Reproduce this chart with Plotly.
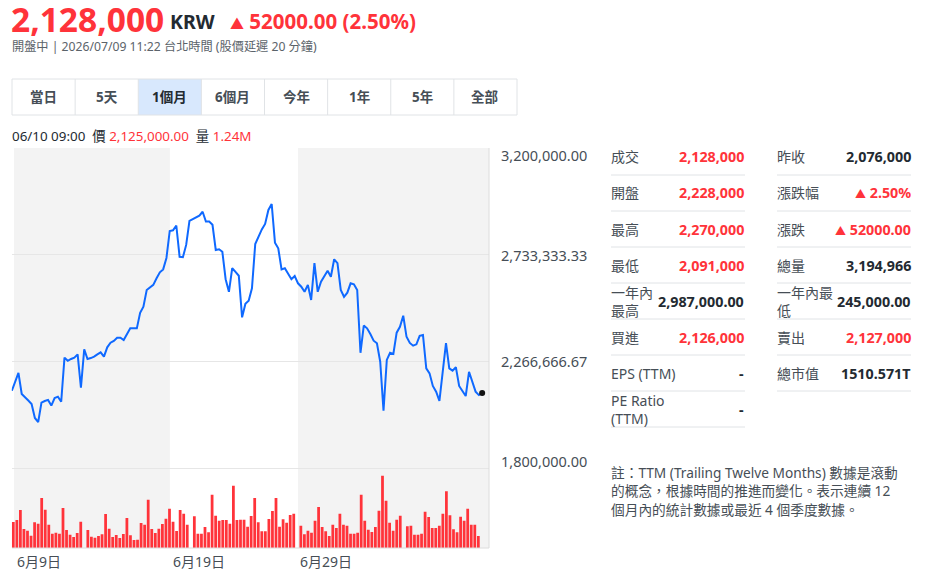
import plotly.graph_objects as go

W, H = 929, 570

# ---------------- data ----------------
price = [2138000, 2176000, 2216000, 2124000, 2111000, 2095000, 2080000, 2019000, 2001000, 2086000,
         2093000, 2098000, 2073000, 2106000, 2112000, 2090000, 2283000, 2269000, 2277000, 2283000,
         2297000, 2151000, 2319000, 2277000, 2281000, 2287000, 2297000, 2306000, 2287000, 2328000,
         2348000, 2356000, 2370000, 2370000, 2360000, 2386000, 2411000, 2411000, 2411000, 2479000,
         2506000, 2579000, 2592000, 2601000, 2630000, 2656000, 2669000, 2719000, 2837000, 2840000,
         2861000, 2724000, 2722000, 2776000, 2881000, 2888000, 2896000, 2904000, 2921000, 2878000,
         2878000, 2864000, 2754000, 2757000, 2746000, 2626000, 2571000, 2674000, 2658000, 2641000,
         2459000, 2518000, 2532000, 2586000, 2780000, 2815000, 2844000, 2868000, 2929000, 2955000,
         2786000, 2761000, 2669000, 2674000, 2649000, 2626000, 2640000, 2608000, 2593000, 2571000,
         2601000, 2535000, 2696000, 2571000, 2615000, 2640000, 2663000, 2637000, 2713000, 2696000,
         2579000, 2549000, 2567000, 2608000, 2604000, 2579000, 2304000, 2423000, 2411000, 2386000,
         2357000, 2346000, 2265000, 2051000, 2273000, 2304000, 2299000, 2392000, 2418000, 2466000,
         2374000, 2347000, 2335000, 2341000, 2378000, 2382000, 2236000, 2214000, 2159000, 2134000,
         2094000, 2221000, 2346000, 2236000, 2226000, 2241000, 2159000, 2137000, 2115000, 2221000,
         2178000, 2134000, 2119000, 2128000]

volume_week1 = [848000, 913000, 1240000, 619000, 565000, 402000, 837000, 793000, 1630000, 1250000,
                761000, 467000, 500000, 467000, 1304000, 587000, 435000, 359000, 489000, 858000]
volume_week2 = [587000, 369000, 337000, 391000, 446000, 1108000, 630000, 359000, 424000, 326000,
                456000, 978000, 413000, 261000, 272000, 815000, 761000, 1576000, 619000, 489000,
                630000, 782000, 956000, 1282000, 858000, 554000, 1239000, 1119000, 761000]
volume_week3 = [1032000, 467000, 467000, 685000, 511000, 1739000, 1054000, 891000, 913000, 913000,
                793000, 2032000, 913000, 924000, 924000, 695000, 1043000, 1630000, 837000, 543000,
                543000, 945000, 1206000, 1630000, 695000, 935000, 826000, 1076000, 1119000]
volume_week4 = [728000, 446000, 565000, 500000, 891000, 1337000, 685000, 543000, 391000, 761000,
                652000, 1119000, 761000, 728000, 467000, 467000, 500000, 1739000, 891000, 598000,
                522000, 685000, 1217000, 2358000, 1543000, 826000, 565000, 924000, 1054000]
volume_week5 = [706000, 728000, 435000, 435000, 467000, 1185000, 1011000, 652000, 652000, 728000,
                1119000, 1847000, 1065000, 609000, 511000, 1022000, 891000, 1282000, 761000, 761000,
                391000]

price_ticks = [1800000.00, 2266666.67, 2733333.33, 3200000.00]
price_tick_labels = ["1,800,000.00", "2,266,666.67", "2,733,333.33", "3,200,000.00"]

date_labels = ["6月9日", "6月19日", "6月29日"]
date_slots = [0.5, 44.4, 80.2]          # bar-slot position where each date period starts
shade_periods = [(0.2, 44.1), (80.2, 134.0)]

range_buttons = ["當日", "5天", "1個月", "6個月", "今年", "1年", "5年", "全部"]
active_button = "1個月"

left_labels = ["成交", "開盤", "最高", "最低", "一年內<br>最高", "買進", "EPS (TTM)", "PE Ratio<br>(TTM)"]
left_values = ["2,128,000", "2,228,000", "2,270,000", "2,091,000", "2,987,000.00", "2,126,000", "-", "-"]
left_red = [True, True, True, True, False, True, False, False]
right_labels = ["昨收", "漲跌幅", "漲跌", "總量", "一年內最<br>低", "賣出", "總市值"]
right_values = ["2,076,000", "▲ 2.50%", "▲ 52000.00", "3,194,966", "245,000.00", "2,127,000", "1510.571T"]
right_red = [False, True, True, False, False, True, False]

note_lines = ["註：TTM (Trailing Twelve Months) 數據是滾動",
              "的概念，根據時間的推進而變化。表示連續 12",
              "個月內的統計數據或最近 4 個季度數據。"]

# ---------------- styling ----------------
RED = "#ff333a"
BLUE = "#0f69ff"
DARK = "#232a31"
GRAY = "#464e56"
LGRAY = "#5b636a"
FONT = "Noto Sans, Noto Sans CJK TC, sans-serif"


def px(x):
    return x / W


def py(y):
    return 1 - y / H


volume = volume_week1 + [None] + volume_week2 + [None] + volume_week3 + [None] + volume_week4 + [None] + volume_week5

fig = go.Figure()
fig.add_trace(go.Bar(x=list(range(len(volume))), y=volume, marker=dict(color=RED, line=dict(width=0)),
                     xaxis="x2", yaxis="y2", hoverinfo="skip", showlegend=False))
fig.add_trace(go.Scatter(x=list(range(len(price))), y=price, mode="lines",
                         line=dict(color=BLUE, width=2), xaxis="x", yaxis="y",
                         hoverinfo="skip", showlegend=False))
fig.add_trace(go.Scatter(x=[len(price) - 1], y=[price[-1]], mode="markers",
                         marker=dict(color="#111111", size=6), xaxis="x", yaxis="y",
                         hoverinfo="skip", showlegend=False))

plot_x0, plot_x1 = 11.7, 489
plot_y0, plot_y1 = 148, 548
xdom = [px(plot_x0), px(plot_x1)]
ydom = [py(plot_y1), py(plot_y0)]

shapes = []
for a, b in shade_periods:
    shapes.append(dict(type="rect", xref="x2", yref="paper", x0=a, x1=b, y0=ydom[0], y1=ydom[1],
                       fillcolor="#f3f3f3", line=dict(width=0), layer="below"))
# bottom axis line and right border
shapes.append(dict(type="line", xref="paper", yref="paper", x0=px(12), x1=px(489), y0=py(548), y1=py(548),
                   line=dict(color="#dcdcdc", width=1)))
shapes.append(dict(type="line", xref="paper", yref="paper", x0=px(489), x1=px(489), y0=py(148), y1=py(548),
                   line=dict(color="#dcdcdc", width=1)))

annotations = []


def ann(x, y, text, size=13, color=DARK, xanchor="left", yanchor="middle", bold=False, **kw):
    if bold:
        text = "<b>" + text + "</b>"
    d = dict(x=px(x), y=py(y), xref="paper", yref="paper", text=text, showarrow=False,
             xanchor=xanchor, yanchor=yanchor, font=dict(size=size, color=color, family=FONT),
             borderpad=0, align="left")
    d.update(kw)
    annotations.append(d)


# header
ann(10, 19.5, "2,128,000", size=33.5, color=RED, bold=True)
ann(169, 21, "KRW", size=19.5, color=DARK, bold=True)
ann(229, 21, "<span style='font-size:14px'>▲</span> 52000.00 (2.50%)", size=20.5, color=RED, bold=True)
ann(11, 46, "開盤中 | 2026/07/09 11:22 台北時間 (股價延遲 20 分鐘)", size=12.2, color=LGRAY)

# range buttons
bx0, bx1, by0, by1 = 12, 517, 79, 115
bw = (bx1 - bx0) / len(range_buttons)
for k, lab in enumerate(range_buttons):
    a = bx0 + k * bw
    if lab == active_button:
        shapes.append(dict(type="rect", xref="paper", yref="paper", x0=px(a), x1=px(a + bw), y0=py(by1), y1=py(by0),
                           fillcolor="#d8e8fd", line=dict(width=0), layer="below"))
    if k > 0:
        shapes.append(dict(type="line", xref="paper", yref="paper", x0=px(a), x1=px(a), y0=py(by1), y1=py(by0),
                           line=dict(color="#e0e3e6", width=1)))
    ann(a + bw / 2, 97, lab, size=13.5, color=DARK if lab == active_button else GRAY, xanchor="center", bold=True)
shapes.append(dict(type="rect", xref="paper", yref="paper", x0=px(bx0), x1=px(bx1), y0=py(by1), y1=py(by0),
                   line=dict(color="#e0e3e6", width=1), fillcolor="rgba(0,0,0,0)"))

# hover info line
ann(11, 136, "06/10 09:00 &nbsp;價 <span style='color:%s'>2,125,000.00</span> &nbsp;量 <span style='color:%s'>1.24M</span>" % (RED, RED),
    size=13.4, color=DARK)

# y axis labels
label_shift = {3200000.00: -7, 1800000.00: 7}
for v, t in zip(price_ticks, price_tick_labels):
    annotations.append(dict(x=px(499), xref="paper", y=v, yref="y", text=t, showarrow=False,
                            xanchor="left", yanchor="middle", yshift=label_shift.get(v, 0),
                            font=dict(size=14.5, color=GRAY, family=FONT)))

# date labels
for s, t in zip(date_slots, date_labels):
    annotations.append(dict(x=s, xref="x2", y=py(561), yref="paper", text=t, showarrow=False,
                            xanchor="left", yanchor="middle", font=dict(size=14, color=GRAY, family=FONT)))

# stats table
row_y = [157, 193, 229, 265, 301, 337, 373, 409]
sep_y = [175, 211, 247, 283, 319, 355, 391, 427]
for k, (lab, val, red) in enumerate(zip(left_labels, left_values, left_red)):
    ann(610, row_y[k], lab, size=14, color=GRAY)
    ann(745, row_y[k], val, size=14.3, color=RED if red else DARK, xanchor="right", bold=True)
    shapes.append(dict(type="line", xref="paper", yref="paper", x0=px(611), x1=px(745), y0=py(sep_y[k]), y1=py(sep_y[k]),
                       line=dict(color="#e0e3e6", width=1)))
for k, (lab, val, red) in enumerate(zip(right_labels, right_values, right_red)):
    ann(776, row_y[k], lab, size=14, color=GRAY)
    if val.startswith("▲"):
        val_txt = "<span style='font-size:11px'>▲</span>" + val[1:]
    else:
        val_txt = val
    ann(912, row_y[k], val_txt, size=14.3, color=RED if red else DARK, xanchor="right", bold=True)
    shapes.append(dict(type="line", xref="paper", yref="paper", x0=px(777), x1=px(911), y0=py(sep_y[k]), y1=py(sep_y[k]),
                       line=dict(color="#e0e3e6", width=1)))

# note
for k, line in enumerate(note_lines):
    ann(610, 472 + k * 18.5, line, size=13.7, color=GRAY)

fig.update_layout(
    width=W, height=H,
    margin=dict(l=0, r=0, t=0, b=0, pad=0),
    paper_bgcolor="white", plot_bgcolor="rgba(0,0,0,0)",
    showlegend=False,
    bargap=0.22,
    xaxis=dict(domain=xdom, range=[-0.05, (plot_x1 - plot_x0) / 3.29], visible=False, fixedrange=True),
    xaxis2=dict(domain=xdom, range=[-0.45, 134.0], overlaying="x", visible=False, fixedrange=True),
    yaxis=dict(domain=ydom, range=[1450000, 3200000], tickvals=price_ticks, showticklabels=False,
               showgrid=True, gridcolor="#e6e6e6", gridwidth=1, zeroline=False, showline=False, ticks="",
               fixedrange=True),
    yaxis2=dict(domain=ydom, range=[0, 13040000], overlaying="y", visible=False, showgrid=False, fixedrange=True),
    shapes=shapes,
    annotations=annotations,
)

fig.write_html("out.html", config={"displayModeBar": False, "staticPlot": True})
